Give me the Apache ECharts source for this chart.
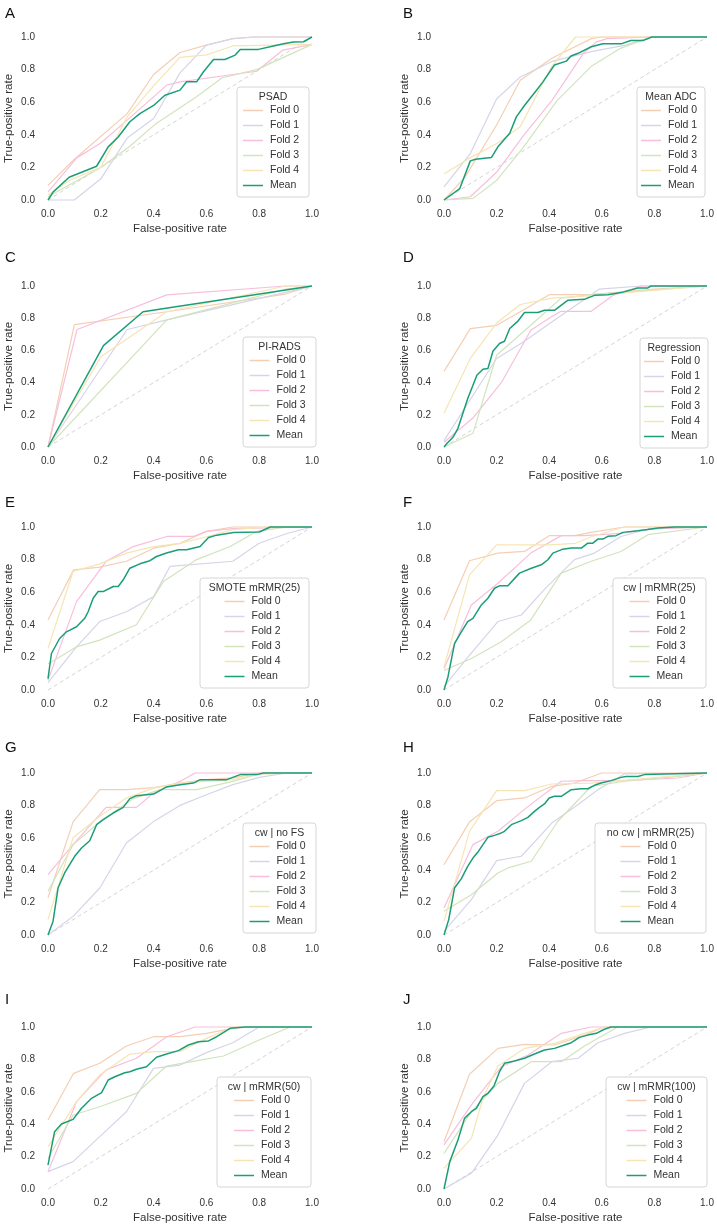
<!DOCTYPE html>
<html><head><meta charset="utf-8">
<script src="https://cdn.jsdelivr.net/npm/echarts@6/dist/echarts.min.js"></script>
<style>html,body{margin:0;padding:0;background:#fff}#c{width:717px;height:1229px}</style>
</head><body><div id="c"></div><script>
// ---------- DATA ----------
const panelLetters = ['A','B','C','D','E','F','G','H','I','J'];
const legendTitles = ['PSAD','Mean ADC','PI-RADS','Regression','SMOTE mRMR(25)','cw | mRMR(25)','cw | no FS','no cw | mRMR(25)','cw | mRMR(50)','cw | mRMR(100)'];
const seriesNames = ['Fold 0','Fold 1','Fold 2','Fold 3','Fold 4','Mean'];
const axisTicks = [0, 0.2, 0.4, 0.6, 0.8, 1.0];
const chanceLine = [[0,0],[1,1]];

// A: PSAD
const A_f0 = [[0,0.09],[0.1,0.25],[0.3,0.53],[0.4,0.77],[0.5,0.905],[0.6,0.95],[0.7,0.99],[0.78,1],[1,1]];
const A_f1 = [[0,0],[0.1,0],[0.2,0.13],[0.3,0.38],[0.4,0.5],[0.5,0.78],[0.6,0.95],[0.7,0.99],[0.78,1],[1,1]];
const A_f2 = [[0,0.05],[0.11,0.26],[0.2,0.35],[0.3,0.49],[0.45,0.705],[0.5,0.725],[0.7,0.77],[0.79,0.79],[0.89,0.92],[1,0.955]];
const A_f3 = [[0,0.02],[0.2,0.2],[0.31,0.33],[0.41,0.47],[0.56,0.63],[0.66,0.75],[0.79,0.8],[1,0.955]];
const A_f4 = [[0,0.03],[0.08,0.12],[0.2,0.2],[0.3,0.51],[0.4,0.7],[0.5,0.875],[0.6,0.89],[0.7,0.945],[1,0.955]];
const A_mean = [[0,0],[0.02,0.05],[0.08,0.14],[0.184,0.207],[0.228,0.326],[0.266,0.387],[0.31,0.48],[0.348,0.53],[0.4,0.58],[0.443,0.643],[0.5,0.674],[0.525,0.725],[0.563,0.725],[0.589,0.787],[0.627,0.862],[0.67,0.862],[0.709,0.889],[0.728,0.924],[0.797,0.924],[0.854,0.945],[0.892,0.959],[0.93,0.969],[0.968,0.971],[1,1]];

// B: Mean ADC
const B_f0 = [[0,0],[0.08,0.14],[0.2,0.46],[0.29,0.735],[0.41,0.87],[0.56,0.99],[0.6,1],[1,1]];
const B_f1 = [[0,0.08],[0.1,0.285],[0.2,0.62],[0.29,0.755],[0.41,0.85],[0.56,0.91],[0.64,0.935],[0.69,0.95],[0.79,1],[1,1]];
const B_f2 = [[0,0],[0.1,0.02],[0.2,0.17],[0.3,0.39],[0.41,0.61],[0.53,0.9],[0.58,0.97],[0.62,0.99],[0.79,1],[1,1]];
const B_f3 = [[0,0],[0.11,0.01],[0.2,0.12],[0.3,0.32],[0.43,0.61],[0.56,0.82],[0.67,0.93],[0.79,1],[1,1]];
const B_f4 = [[0,0.16],[0.1,0.26],[0.2,0.345],[0.29,0.45],[0.41,0.82],[0.5,1],[1,1]];
const B_mean = [[0,0],[0.06,0.07],[0.1,0.24],[0.12,0.25],[0.18,0.26],[0.205,0.326],[0.25,0.41],[0.275,0.51],[0.306,0.58],[0.357,0.684],[0.376,0.725],[0.42,0.828],[0.465,0.852],[0.483,0.883],[0.51,0.9],[0.56,0.94],[0.604,0.958],[0.673,0.958],[0.71,0.978],[0.756,0.978],[0.79,1],[1,1]];

// C: PI-RADS
const C_f0 = [[0,0],[0.1,0.76],[0.45,0.84],[0.9,0.95],[1,1]];
const C_f1 = [[0,0],[0.3,0.73],[0.45,0.79],[0.9,0.96],[1,1]];
const C_f2 = [[0,0],[0.11,0.73],[0.45,0.945],[0.9,1],[1,1]];
const C_f3 = [[0,0],[0.45,0.79],[0.9,0.98],[1,1]];
const C_f4 = [[0,0],[0.2,0.56],[0.45,0.84],[0.9,1],[1,1]];
const C_mean = [[0,0],[0.21,0.63],[0.36,0.84],[1,1]];

// D: Regression
const D_f0 = [[0,0.47],[0.1,0.735],[0.2,0.756],[0.3,0.85],[0.4,0.946],[0.56,0.946],[0.8,0.98],[1,1]];
const D_f1 = [[0,0.04],[0.2,0.55],[0.3,0.65],[0.43,0.8],[0.59,0.98],[0.75,1],[1,1]];
const D_f2 = [[0,0.03],[0.11,0.18],[0.22,0.405],[0.33,0.725],[0.41,0.81],[0.445,0.843],[0.56,0.843],[0.64,0.94],[0.75,1],[1,1]];
const D_f3 = [[0,0],[0.11,0.085],[0.2,0.57],[0.33,0.756],[0.445,0.925],[0.56,0.946],[1,1]];
const D_f4 = [[0,0.21],[0.1,0.55],[0.2,0.77],[0.29,0.885],[0.41,0.925],[0.56,0.94],[1,1]];
const D_mean = [[0,0],[0.01,0.02],[0.034,0.06],[0.053,0.116],[0.09,0.3],[0.125,0.446],[0.148,0.483],[0.167,0.488],[0.186,0.595],[0.211,0.643],[0.23,0.657],[0.25,0.736],[0.28,0.78],[0.306,0.835],[0.357,0.835],[0.382,0.849],[0.42,0.849],[0.47,0.911],[0.534,0.917],[0.572,0.942],[0.623,0.946],[0.673,0.959],[0.705,0.973],[0.737,0.988],[0.775,0.988],[0.787,1],[1,1]];

// E: SMOTE mRMR(25)
const E_f0 = [[0,0.43],[0.097,0.737],[0.196,0.754],[0.297,0.79],[0.4,0.87],[0.5,0.9],[0.6,0.973],[0.7,1],[1,1]];
const E_f1 = [[0,0.045],[0.108,0.265],[0.196,0.42],[0.297,0.48],[0.4,0.573],[0.462,0.758],[0.7,0.79],[0.8,0.9],[0.905,0.96],[1,1]];
const E_f2 = [[0,0.06],[0.108,0.542],[0.22,0.789],[0.323,0.88],[0.45,0.942],[0.55,0.942],[0.6,0.973],[0.7,0.99],[1,1]];
const E_f3 = [[0,0.16],[0.108,0.265],[0.196,0.306],[0.335,0.4],[0.437,0.665],[0.563,0.8],[0.69,0.88],[0.79,0.973],[0.905,1],[1,1]];
const E_f4 = [[0,0.255],[0.095,0.727],[0.196,0.774],[0.297,0.84],[0.4,0.88],[0.5,0.9],[0.6,0.94],[0.7,0.984],[0.83,1],[1,1]];
const E_mean = [[0,0.07],[0.013,0.224],[0.044,0.316],[0.07,0.357],[0.108,0.388],[0.139,0.44],[0.152,0.48],[0.171,0.563],[0.19,0.604],[0.209,0.604],[0.234,0.624],[0.247,0.635],[0.266,0.635],[0.285,0.676],[0.31,0.747],[0.348,0.774],[0.386,0.793],[0.411,0.819],[0.449,0.84],[0.494,0.86],[0.525,0.86],[0.576,0.88],[0.608,0.936],[0.639,0.95],[0.703,0.966],[0.8,0.969],[0.842,1],[1,1]];

// F: cw | mRMR(25)
const F_f0 = [[0,0.43],[0.097,0.793],[0.205,0.84],[0.306,0.85],[0.4,0.947],[0.496,0.947],[0.56,0.967],[0.686,1],[1,1]];
const F_f1 = [[0,0.02],[0.09,0.2],[0.205,0.42],[0.294,0.46],[0.38,0.614],[0.496,0.8],[0.572,0.84],[0.673,0.942],[0.775,0.988],[1,1]];
const F_f2 = [[0,0.13],[0.104,0.522],[0.205,0.655],[0.33,0.84],[0.446,0.947],[0.534,0.947],[0.686,0.963],[0.787,0.988],[1,1]];
const F_f3 = [[0,0.12],[0.104,0.193],[0.218,0.296],[0.33,0.43],[0.446,0.717],[0.56,0.79],[0.673,0.85],[0.775,0.953],[1,1]];
const F_f4 = [[0,0.14],[0.097,0.706],[0.2,0.89],[0.306,0.89],[0.4,0.89],[0.5,0.9],[0.56,0.94],[0.686,1],[1,1]];
const F_mean = [[0,0],[0.015,0.08],[0.04,0.285],[0.066,0.357],[0.09,0.42],[0.11,0.44],[0.142,0.522],[0.167,0.563],[0.192,0.624],[0.211,0.639],[0.243,0.639],[0.287,0.717],[0.332,0.747],[0.37,0.768],[0.395,0.799],[0.414,0.84],[0.452,0.864],[0.484,0.871],[0.522,0.871],[0.547,0.901],[0.566,0.901],[0.585,0.926],[0.604,0.926],[0.623,0.943],[0.654,0.947],[0.68,0.967],[0.737,0.977],[0.775,0.984],[0.813,0.994],[0.876,1],[1,1]];

// G: cw | no FS
const G_f0 = [[0,0.23],[0.095,0.698],[0.196,0.897],[0.297,0.897],[0.4,0.91],[0.5,0.938],[0.6,0.96],[0.7,0.97],[0.8,1],[1,1]];
const G_f1 = [[0,0],[0.095,0.115],[0.196,0.29],[0.297,0.568],[0.4,0.7],[0.5,0.8],[0.6,0.866],[0.7,0.928],[0.8,0.973],[0.905,1],[1,1]];
const G_f2 = [[0,0.372],[0.095,0.558],[0.22,0.788],[0.335,0.788],[0.4,0.877],[0.5,0.948],[0.557,1],[1,1]];
const G_f3 = [[0,0.27],[0.095,0.558],[0.196,0.698],[0.323,0.842],[0.424,0.897],[0.563,0.897],[0.7,0.948],[0.8,0.994],[1,1]];
const G_f4 = [[0,0.095],[0.095,0.6],[0.196,0.733],[0.297,0.846],[0.4,0.907],[0.5,0.938],[0.6,0.948],[0.7,0.959],[0.8,0.994],[1,1]];
const G_mean = [[0,0],[0.019,0.084],[0.038,0.29],[0.063,0.383],[0.101,0.486],[0.127,0.537],[0.158,0.582],[0.184,0.681],[0.209,0.712],[0.247,0.753],[0.285,0.788],[0.31,0.842],[0.335,0.86],[0.4,0.87],[0.449,0.914],[0.5,0.928],[0.551,0.938],[0.576,0.959],[0.677,0.959],[0.728,0.99],[0.791,0.99],[0.816,1],[1,1]];

// H: no cw | mRMR(25)
const H_f0 = [[0,0.434],[0.097,0.698],[0.2,0.829],[0.306,0.846],[0.41,0.918],[0.496,0.938],[0.6,1],[1,1]];
const H_f1 = [[0,0.022],[0.104,0.218],[0.2,0.459],[0.294,0.486],[0.41,0.691],[0.51,0.805],[0.585,0.897],[0.686,0.994],[1,1]];
const H_f2 = [[0,0.167],[0.11,0.558],[0.205,0.64],[0.32,0.794],[0.446,0.949],[0.534,0.953],[0.686,0.953],[0.889,0.969],[1,1]];
const H_f3 = [[0,0.146],[0.104,0.249],[0.205,0.383],[0.243,0.414],[0.332,0.455],[0.433,0.702],[0.56,0.918],[0.686,0.949],[0.889,0.979],[1,1]];
const H_f4 = [[0,0.084],[0.097,0.64],[0.2,0.891],[0.306,0.891],[0.41,0.932],[0.56,0.938],[1,1]];
const H_mean = [[0,0],[0.018,0.095],[0.04,0.29],[0.066,0.348],[0.09,0.424],[0.11,0.475],[0.129,0.512],[0.148,0.558],[0.167,0.603],[0.192,0.615],[0.218,0.63],[0.23,0.64],[0.256,0.681],[0.294,0.706],[0.319,0.726],[0.344,0.763],[0.363,0.788],[0.382,0.809],[0.4,0.846],[0.42,0.856],[0.446,0.856],[0.484,0.897],[0.522,0.903],[0.547,0.903],[0.572,0.924],[0.597,0.938],[0.635,0.953],[0.673,0.973],[0.692,0.979],[0.737,0.979],[0.762,0.99],[1,1]];

// I: cw | mRMR(50)
const I_f0 = [[0,0.426],[0.097,0.714],[0.196,0.776],[0.297,0.883],[0.4,0.94],[0.5,0.94],[0.6,0.961],[0.7,0.992],[0.75,1],[1,1]];
const I_f1 = [[0,0.107],[0.095,0.169],[0.196,0.323],[0.297,0.477],[0.4,0.745],[0.5,0.765],[0.6,0.842],[0.7,0.903],[0.8,1],[1,1]];
const I_f2 = [[0,0.107],[0.108,0.539],[0.22,0.735],[0.335,0.807],[0.45,0.94],[0.557,1],[1,1]];
const I_f3 = [[0,0.19],[0.095,0.457],[0.196,0.508],[0.335,0.59],[0.449,0.759],[0.576,0.796],[0.665,0.821],[0.8,0.92],[0.918,1],[1,1]];
const I_f4 = [[0,0.261],[0.108,0.539],[0.196,0.704],[0.31,0.833],[0.4,0.848],[0.5,0.848],[0.6,0.93],[0.7,1],[1,1]];
const I_mean = [[0,0.148],[0.025,0.354],[0.051,0.401],[0.095,0.43],[0.127,0.498],[0.165,0.56],[0.203,0.595],[0.228,0.673],[0.253,0.693],[0.291,0.718],[0.31,0.724],[0.335,0.739],[0.373,0.755],[0.411,0.813],[0.449,0.833],[0.494,0.854],[0.532,0.889],[0.57,0.909],[0.608,0.914],[0.639,0.94],[0.69,0.992],[0.747,1],[1,1]];

// J: cw | mRMR(100)
const J_f0 = [[0,0.292],[0.097,0.708],[0.205,0.868],[0.306,0.893],[0.42,0.889],[0.534,0.95],[0.61,1],[1,1]];
const J_f1 = [[0,0],[0.104,0.097],[0.205,0.333],[0.306,0.652],[0.41,0.786],[0.51,0.807],[0.585,0.903],[0.686,0.961],[0.787,1],[1,1]];
const J_f2 = [[0,0.272],[0.104,0.519],[0.218,0.755],[0.32,0.827],[0.446,0.961],[0.56,1],[1,1]];
const J_f3 = [[0,0.22],[0.104,0.477],[0.205,0.652],[0.332,0.786],[0.446,0.786],[0.534,0.883],[0.661,1],[1,1]];
const J_f4 = [[0,0.128],[0.104,0.313],[0.148,0.56],[0.205,0.759],[0.306,0.868],[0.42,0.899],[0.534,0.961],[0.61,1],[1,1]];
const J_mean = [[0,0],[0.022,0.169],[0.053,0.302],[0.078,0.436],[0.104,0.477],[0.123,0.498],[0.148,0.57],[0.167,0.591],[0.19,0.636],[0.211,0.724],[0.23,0.776],[0.268,0.79],[0.306,0.807],[0.344,0.833],[0.382,0.858],[0.42,0.868],[0.458,0.889],[0.484,0.903],[0.515,0.936],[0.547,0.95],[0.579,0.961],[0.61,0.986],[0.635,1],[1,1]];

const panelCurves = [
  [A_f0,A_f1,A_f2,A_f3,A_f4,A_mean],
  [B_f0,B_f1,B_f2,B_f3,B_f4,B_mean],
  [C_f0,C_f1,C_f2,C_f3,C_f4,C_mean],
  [D_f0,D_f1,D_f2,D_f3,D_f4,D_mean],
  [E_f0,E_f1,E_f2,E_f3,E_f4,E_mean],
  [F_f0,F_f1,F_f2,F_f3,F_f4,F_mean],
  [G_f0,G_f1,G_f2,G_f3,G_f4,G_mean],
  [H_f0,H_f1,H_f2,H_f3,H_f4,H_mean],
  [I_f0,I_f1,I_f2,I_f3,I_f4,I_mean],
  [J_f0,J_f1,J_f2,J_f3,J_f4,J_mean]
];

// ---------- LAYOUT / STYLE ----------
const FONT = '"Liberation Sans", Arial, Helvetica, sans-serif';
const TXT = '#333333';
const colors = ['#f4cfb3','#d6d4e8','#f8bfdc','#d1e4bc','#f6e5b4','#1b9e77'];
const colLeft = [48, 444];
const colWidth = [264, 263];
const rowTop = [37, 286, 527, 773, 1027];
const rowBottom = [200, 447, 690, 935, 1189];
const letterTop = [6, 250, 495, 740, 992];
const letterLeft = [5, 403];
// legend boxes [left, top, width]
const legendBox = [[237,87,72],[637,87,68],[243,337,73],[640,338,68],[200,578,109],[613,578,93],[243,823,73],[595,823,111],[217,1077,94],[606,1077,101]];
const BOX_H = 110;

const grid = [], xAxis = [], yAxis = [], series = [], legend = [], graphic = [];

panelCurves.forEach((curves, i) => {
  const col = i % 2, row = Math.floor(i / 2);
  grid.push({left: colLeft[col], top: rowTop[row], width: colWidth[col], height: rowBottom[row] - rowTop[row], containLabel: false, outerBoundsMode: 'none'});
  const common = {
    type: 'value', gridIndex: i, min: axisTicks[0], max: axisTicks[axisTicks.length-1], interval: 0.2,
    axisLine: {show: false}, axisTick: {show: false}, splitLine: {show: false},
    nameLocation: 'middle',
    nameTextStyle: {fontSize: 11.5, color: TXT, fontFamily: FONT},
    axisLabel: {formatter: v => v.toFixed(1), fontSize: 10, color: TXT, fontFamily: FONT, showMinLabel: true, showMaxLabel: true}
  };
  xAxis.push(Object.assign({}, common, {name: 'False-positive rate', nameGap: 23, axisLabel: Object.assign({}, common.axisLabel, {margin: 9})}));
  yAxis.push(Object.assign({}, common, {name: 'True-positive rate', nameGap: 33, axisLabel: Object.assign({}, common.axisLabel, {margin: 13})}));

  series.push({
    type: 'line', name: 'chance', xAxisIndex: i, yAxisIndex: i, data: chanceLine,
    symbol: 'none', silent: true, clip: false, z: 1,
    lineStyle: {color: '#d4d4d4', width: 1, type: [4, 3]}
  });
  curves.forEach((d, k) => {
    const isMean = k === 5;
    series.push({
      type: 'line', name: seriesNames[k], xAxisIndex: i, yAxisIndex: i, data: d,
      symbol: 'none', showSymbol: false, clip: false, z: isMean ? 3 : 2,
      color: colors[k],
      itemStyle: {color: colors[k]},
      lineStyle: {color: colors[k], width: isMean ? 1.5 : 1.2}
    });
  });

  const [bl, bt, bw] = legendBox[i];
  graphic.push({type: 'rect', shape: {x: bl, y: bt, width: bw, height: BOX_H, r: 3},
    style: {fill: 'rgba(255,255,255,0.85)', stroke: '#d6d6d6', lineWidth: 1}, z: 10});
  graphic.push({type: 'text', x: bl + bw / 2, y: bt + 10, z: 11,
    style: {text: legendTitles[i], fontSize: 10.5, fontFamily: FONT, fill: TXT, align: 'center', verticalAlign: 'middle'}});
  graphic.push({type: 'text', x: letterLeft[col], y: letterTop[row], z: 11,
    style: {text: panelLetters[i], fontSize: 15, fontFamily: FONT, fill: '#111', align: 'left', verticalAlign: 'top'}});

  legend.push({
    orient: 'vertical', left: bl + (bw - 60) / 2, top: bt + 16.5, padding: 0,
    icon: 'rect', itemWidth: 20, itemHeight: 1.5, itemGap: 1, selectedMode: false, z: 20,
    data: seriesNames,
    textStyle: {fontSize: 10.5, color: TXT, fontFamily: FONT, lineHeight: 14, padding: [0, 0, 0, 2]}
  });
});

const chart = echarts.init(document.getElementById('c'), null, {renderer: 'canvas'});
chart.setOption({
  backgroundColor: '#ffffff',
  animation: false,
  textStyle: {fontFamily: FONT},
  grid, xAxis, yAxis, series, legend, graphic
});
</script></body></html>
